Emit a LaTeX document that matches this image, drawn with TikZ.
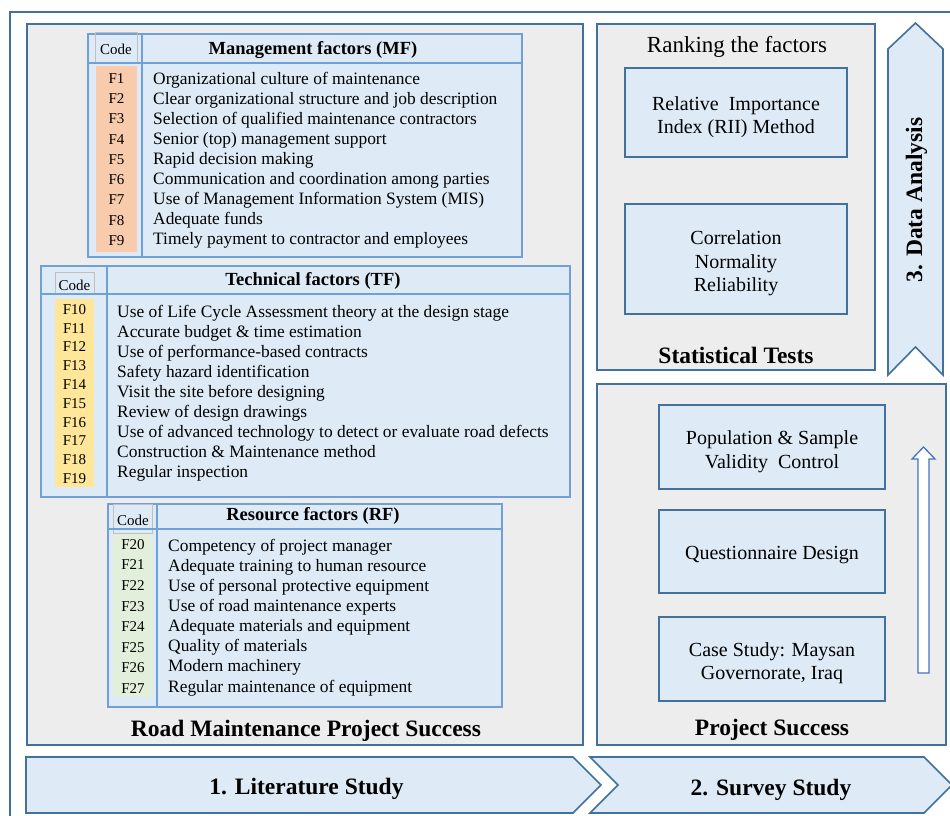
\documentclass[tikz,border=0pt]{standalone}
\usepackage{fontspec}
\setmainfont{Liberation Serif}
\definecolor{cdark}{HTML}{41719C}
\definecolor{clight}{HTML}{6FA0D8}
\definecolor{cgray}{HTML}{EDEDED}
\definecolor{cblue}{HTML}{DEEBF7}
\definecolor{csalmon}{HTML}{F8CBAD}
\definecolor{cyellow}{HTML}{FFE699}
\definecolor{cgreen}{HTML}{E2EFDA}
\definecolor{carrow}{HTML}{4472C4}
\begin{document}
\begin{tikzpicture}[x=1pt,y=-1pt,
  frameline/.style={draw=cdark, line width=1.4pt},
  panel/.style={draw=cdark, fill=cgray, line width=1.6pt},
  bluebox/.style={draw=cdark, fill=cblue, line width=1.6pt, inner sep=0pt},
  tbl/.style={draw=clight, fill=cblue, line width=1.2pt},
  tline/.style={draw=clight, line width=1.2pt},
  codecell/.style={draw=black!25, line width=0.5pt},
  rowtxt/.style={anchor=mid west, inner sep=0pt, font=\fontsize{17.4}{20}\selectfont},
  codetxt/.style={anchor=mid, inner sep=0pt, font=\fontsize{15}{17}\selectfont},
  codehdr/.style={inner sep=0pt, font=\fontsize{15}{17}\selectfont},
  hdr/.style={inner sep=0pt, font=\bfseries\fontsize{18.5}{20}\selectfont},
  bigtxt/.style={inner sep=0pt, font=\bfseries\fontsize{23.5}{26}\selectfont},
  boxtxt/.style={inner sep=0pt, align=center, font=\fontsize{20}{23.5}\selectfont},
  stepshape/.style={draw=cdark, fill=cblue, line width=1.6pt}
]
\useasboundingbox (0,0) rectangle (950,816);
\clip (0,0) rectangle (950,816);
\fill[white] (0,0) rectangle (950,816);

% outer frame
\coordinate (ofa) at (970,12);
\coordinate (ofb) at (10,12);
\coordinate (ofc) at (10,830);
\draw[frameline] (ofa) -- (ofb) -- (ofc);

% ---------------- left panel ----------------
\draw[panel] (27,24) rectangle (583,745);

% MF table
\draw[tbl] (88,34) rectangle (522,257);
\fill[csalmon] (96,66) rectangle (137,252);
\draw[codecell] (95,32) rectangle (137,63);
\draw[tline] (88,63) -- (522,63);
\draw[tline] (142,34) -- (142,257);
\node[codehdr] (mfcode) at (116,49) {Code};
\node[hdr] (mftitle) at (313,50) {Management factors (MF)};
\foreach \t [count=\i] in {Organizational culture of maintenance,
  Clear organizational structure and job description,
  Selection of qualified maintenance contractors,
  Senior (top) management support,
  Rapid decision making,
  Communication and coordination among parties,
  Use of Management Information System (MIS),
  Adequate funds,
  Timely payment to contractor and employees}{
  \node[rowtxt] (mf\i) at (153,{82+20*(\i-1)}) {\t};
  \node[codetxt] (mfc\i) at (116.5,{81+20.25*(\i-1)}) {F\i};
}

% TF table
\draw[tbl] (41,266) rectangle (570,497);
\fill[cyellow] (55,299) rectangle (94,487);
\draw[codecell] (55,272) rectangle (94,294);
\draw[tline] (41,294) -- (570,294);
\draw[tline] (107,266) -- (107,497);
\node[codehdr] (tfcode) at (74.5,285) {Code};
\node[hdr] (tftitle) at (313,281) {Technical factors (TF)};
\foreach \t [count=\i] in {Use of Life Cycle Assessment theory at the design stage,
  Accurate budget \& time estimation,
  Use of performance-based contracts,
  Safety hazard identification,
  Visit the site before designing,
  Review of design drawings,
  Use of advanced technology to detect or evaluate road defects,
  Construction \& Maintenance method,
  Regular inspection}{
  \node[rowtxt] (tf\i) at (117,{315+20*(\i-1)}) {\t};
}
\foreach \i [evaluate=\i as \n using int(\i+9)] in {1,...,10}{
  \node[codetxt] (tfc\i) at (74.5,{312+18.8*(\i-1)}) {F\n};
}

% RF table
\draw[tbl] (108,504) rectangle (502,707);
\fill[cgreen] (113,533) rectangle (152,697);
\draw[codecell] (113,504) rectangle (152,533);
\draw[tline] (108,529) -- (502,529);
\draw[tline] (157,504) -- (157,707);
\node[codehdr] (rfcode) at (133,520) {Code};
\node[hdr] (rftitle) at (313,516) {Resource factors (RF)};
\foreach \t [count=\i] in {Competency of project manager,
  Adequate training to human resource,
  Use of personal protective equipment,
  Use of road maintenance experts,
  Adequate materials and equipment,
  Quality of materials,
  Modern machinery,
  Regular maintenance of equipment}{
  \node[rowtxt] (rf\i) at (168,{549+20.1*(\i-1)}) {\t};
}
\foreach \i [evaluate=\i as \n using int(\i+19)] in {1,...,8}{
  \node[codetxt] (rfc\i) at (133,{547+20.6*(\i-1)}) {F\n};
}

\node[bigtxt] (rmps) at (306,731) {Road Maintenance Project Success};

% ---------------- right top panel ----------------
\draw[panel] (597,24) rectangle (875,370);
\node[inner sep=0pt, font=\fontsize{23}{25}\selectfont] (rank) at (737,47) {Ranking the factors};
\node[bluebox, minimum width=222, minimum height=89] (rii) at (736,112.5) {};
\node[boxtxt] (riit) at (736,117) {Relative\ \ Importance\\Index (RII) Method};
\node[bluebox, minimum width=222, minimum height=110] (corr) at (736,259) {};
\node[boxtxt] (corrt) at (736,263.5) {Correlation\\Normality\\Reliability};
\node[bigtxt] (stat) at (736,355) {Statistical Tests};

% data analysis arrow
\draw[stepshape] (888,49) -- (915.5,23) -- (943,49) -- (943,375) -- (915.5,347) -- (888,375) -- cycle;
\node[bigtxt, rotate=90] (da) at (916.5,200) {3. Data Analysis};

% ---------------- right bottom panel ----------------
\draw[panel] (597,384) rectangle (946,745);
\node[bluebox, minimum width=226, minimum height=84] (pop) at (772,447) {};
\node[boxtxt] (popt) at (772,451.5) {Population \& Sample\\Validity\ \ Control};
\node[bluebox, minimum width=226, minimum height=83] (quest) at (772,551.5) {};
\node[boxtxt] (questt) at (772,555.5) {Questionnaire Design};
\node[bluebox, minimum width=226, minimum height=84] (case) at (772,659) {};
\node[boxtxt] (caset) at (772,663) {Case Study: Maysan\\Governorate, Iraq};
\node[bigtxt] (ps) at (772,730) {Project Success};
\draw[draw=carrow, fill=white, line width=1.3pt]
  (918,673) -- (918,459) -- (912,459) -- (923.5,447) -- (935,459) -- (929,459) -- (929,673) -- cycle;

% ---------------- bottom step arrows ----------------
\draw[stepshape] (26,757) -- (573,757) -- (601,785) -- (573,813) -- (26,813) -- cycle;
\node[bigtxt] (lit) at (306.5,789) {1. Literature Study};
\draw[stepshape] (590,757) -- (924,757) -- (952,785) -- (924,813) -- (590,813) -- (618,785) -- cycle;
\node[bigtxt] (surv) at (771,790) {2. Survey Study};
\end{tikzpicture}
\end{document}
